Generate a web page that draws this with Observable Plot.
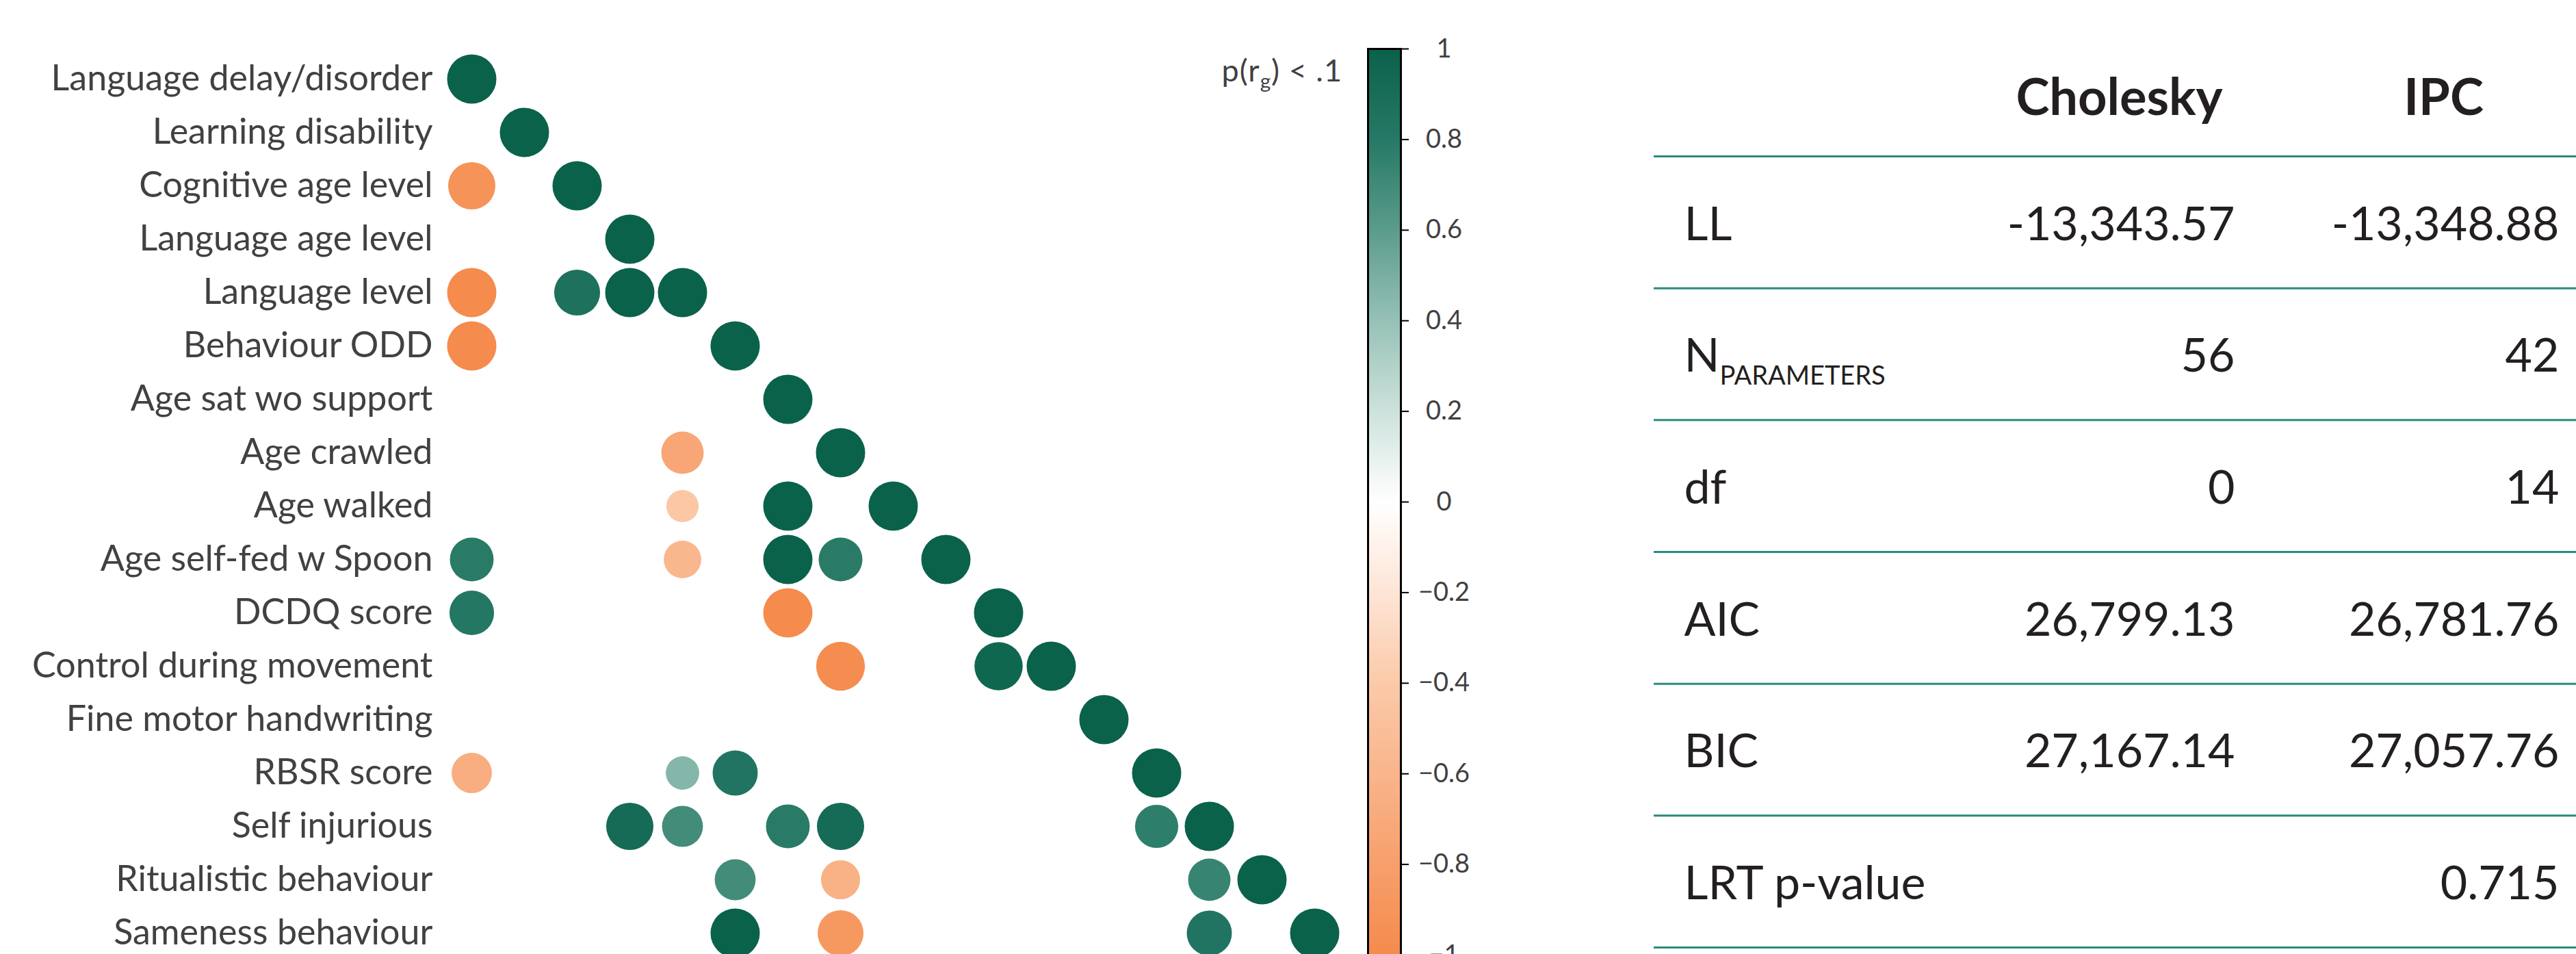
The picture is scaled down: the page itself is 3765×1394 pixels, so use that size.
<!DOCTYPE html>
<html>
<head>
<meta charset="utf-8">
<script src="https://cdn.jsdelivr.net/npm/d3@7"></script>
<script src="https://cdn.jsdelivr.net/npm/@observablehq/plot@0.6"></script>
<style>
  html, body { margin: 0; padding: 0; background: #fff; overflow: hidden; width: 3765px; height: 1394px; }
  #root { position: relative; width: 3765px; height: 1394px; overflow: hidden; }
  .panel { position: absolute; top: 0; }
  #matrix { left: 0; width: 1990px; }
  #colorbar { left: 1960px; width: 260px; }
  #table { left: 2400px; width: 1365px; }
  #legendTitle { position: absolute; left: 1600px; width: 362px; top: 76px; text-align: right;
    font-family: Lato, sans-serif; font-size: 45px; line-height: 52px; color: #414042; white-space: nowrap; letter-spacing: 1px; }
  #legendTitle sub { font-size: 0.66em; vertical-align: -0.35em; line-height: 0; }
</style>
</head>
<body>
<div id="root">
  <div id="matrix" class="panel"></div>
  <div id="legendTitle">p(r<sub>g</sub>) &lt; .1</div>
  <div id="colorbar" class="panel"></div>
  <div id="table" class="panel"></div>
</div>
<script>
// ---------- data ----------
const variables = [
  "Language delay/disorder",
  "Learning disability",
  "Cognitive age level",
  "Language age level",
  "Language level",
  "Behaviour ODD",
  "Age sat wo support",
  "Age crawled",
  "Age walked",
  "Age self-fed w Spoon",
  "DCDQ score",
  "Control during movement",
  "Fine motor handwriting",
  "RBSR score",
  "Self injurious",
  "Ritualistic behaviour",
  "Sameness behaviour"
];

// significant genetic correlations (p < .1): [row variable, column variable, r_g]
const significantRg = [
  ["Language delay/disorder", "Language delay/disorder", 1.0],
  ["Learning disability", "Learning disability", 1.0],
  ["Cognitive age level", "Language delay/disorder", -0.92],
  ["Cognitive age level", "Cognitive age level", 1.0],
  ["Language age level", "Language age level", 1.0],
  ["Language level", "Language delay/disorder", -1.0],
  ["Language level", "Cognitive age level", 0.87],
  ["Language level", "Language age level", 1.0],
  ["Language level", "Language level", 1.0],
  ["Behaviour ODD", "Language delay/disorder", -1.0],
  ["Behaviour ODD", "Behaviour ODD", 1.0],
  ["Age sat wo support", "Age sat wo support", 1.0],
  ["Age crawled", "Language level", -0.74],
  ["Age crawled", "Age crawled", 1.0],
  ["Age walked", "Language level", -0.43],
  ["Age walked", "Age sat wo support", 1.0],
  ["Age walked", "Age walked", 1.0],
  ["Age self-fed w Spoon", "Language delay/disorder", 0.79],
  ["Age self-fed w Spoon", "Language level", -0.58],
  ["Age self-fed w Spoon", "Age sat wo support", 1.0],
  ["Age self-fed w Spoon", "Age crawled", 0.79],
  ["Age self-fed w Spoon", "Age self-fed w Spoon", 1.0],
  ["DCDQ score", "Language delay/disorder", 0.82],
  ["DCDQ score", "Age sat wo support", -1.0],
  ["DCDQ score", "DCDQ score", 1.0],
  ["Control during movement", "Age crawled", -0.98],
  ["Control during movement", "DCDQ score", 0.96],
  ["Control during movement", "Control during movement", 1.0],
  ["Fine motor handwriting", "Fine motor handwriting", 1.0],
  ["RBSR score", "Language delay/disorder", -0.67],
  ["RBSR score", "Language level", 0.46],
  ["RBSR score", "Behaviour ODD", 0.84],
  ["RBSR score", "RBSR score", 1.0],
  ["Self injurious", "Language age level", 0.92],
  ["Self injurious", "Language level", 0.69],
  ["Self injurious", "Age sat wo support", 0.79],
  ["Self injurious", "Age crawled", 0.92],
  ["Self injurious", "RBSR score", 0.77],
  ["Self injurious", "Self injurious", 1.0],
  ["Ritualistic behaviour", "Behaviour ODD", 0.69],
  ["Ritualistic behaviour", "Age crawled", -0.63],
  ["Ritualistic behaviour", "Self injurious", 0.74],
  ["Ritualistic behaviour", "Ritualistic behaviour", 1.0],
  ["Sameness behaviour", "Behaviour ODD", 1.0],
  ["Sameness behaviour", "Age crawled", -0.87],
  ["Sameness behaviour", "Self injurious", 0.84],
  ["Sameness behaviour", "Sameness behaviour", 1.0]
];

const colorStops = [-1, -0.8, -0.6, -0.4, -0.2, 0, 0.2, 0.4, 0.6, 0.8, 1];
const colorStopHex = ["#f58b4d", "#f7a06c", "#f9b58b", "#fbcaa9", "#fde5d6", "#ffffff",
                      "#cde2dc", "#96c1b6", "#5b9c8b", "#267966", "#0b624b"];
const colorTicks = [1, 0.8, 0.6, 0.4, 0.2, 0, -0.2, -0.4, -0.6, -0.8, -1];

const tableColumns = ["Cholesky", "IPC"];
const tableRows = ["LL", "N", "df", "AIC", "BIC", "LRT p-value"];
const tableRowSubscripts = ["", "PARAMETERS", "", "", "", ""];
const choleskyValues = ["-13,343.57", "56", "0", "26,799.13", "27,167.14", ""];
const ipcValues = ["-13,348.88", "42", "14", "26,781.76", "27,057.76", "0.715"];

// ---------- shared ----------
const colorScale = {type: "linear", domain: colorStops, range: colorStopHex, interpolate: "rgb"};
const labelGray = "#414042";
const tableInk = "#231f20";

// ---------- correlation matrix ----------
const cells = significantRg.map(([row, col, value]) => ({row, col, value}));

const matrix = Plot.plot({
  width: 1990,
  height: 1440,
  marginLeft: 684, marginRight: 0, marginTop: 0, marginBottom: 0,
  style: {fontFamily: "Lato, sans-serif", background: "transparent", maxWidth: "none"},
  x: {type: "point", domain: variables, range: [684, 1926], padding: 0, axis: null},
  y: {type: "point", domain: variables, range: [113, 1364], padding: 0},
  r: {type: "sqrt", domain: [0, 1], range: [0, 36]},
  color: colorScale,
  marks: [
    Plot.axisY({anchor: "left", label: null, tickSize: 0, tickPadding: 52, fontSize: 52, fill: labelGray}),
    Plot.dot(cells, {x: "col", y: "row", r: d => Math.abs(d.value), fill: "value"})
  ]
});
document.getElementById("matrix").appendChild(matrix);

// ---------- colour bar ----------
const barStep = 0.004;
const barSamples = d3.range(-1, 1, barStep);
const colorbar = Plot.plot({
  width: 260,
  height: 1440,
  marginLeft: 39, marginRight: 173, marginTop: 71, marginBottom: 45,
  style: {fontFamily: "Lato, sans-serif", background: "transparent", maxWidth: "none", overflow: "visible"},
  y: {domain: [-1, 1]},
  color: colorScale,
  marks: [
    Plot.rect(barSamples, {y1: d => d, y2: d => Math.min(1, d + barStep * 1.6), fill: d => d + barStep / 2}),
    Plot.frame({stroke: "#000", strokeWidth: 3}),
    Plot.axisY({anchor: "right", label: null, ticks: colorTicks, tickSize: 11, tickPadding: 52, textAnchor: "middle",
      fontSize: 38, fill: labelGray, stroke: "#000", strokeWidth: 2,
      tickFormat: d => d3.format("~g")(d)})
  ]
});
document.getElementById("colorbar").appendChild(colorbar);

// ---------- fit table ----------
const tableCells = tableRows.flatMap((r, i) => [
  {row: i + 1, col: "Cholesky", text: choleskyValues[i]},
  {row: i + 1, col: "IPC", text: ipcValues[i]}
]);
const ruleIndex = d3.range(0.5, tableRows.length + 1, 1);

const table = Plot.plot({
  width: 1365,
  height: 1394,
  marginLeft: 17, marginRight: 0, marginTop: 0, marginBottom: 0,
  style: {fontFamily: "Lato, sans-serif", background: "transparent", maxWidth: "none"},
  x: {type: "point", domain: tableColumns, range: [866, 1340], padding: 0, axis: null},
  y: {type: "linear", domain: [0.5, 6.5], range: [228, 1384], axis: null},
  marks: [
    Plot.ruleY(ruleIndex, {y: d => d, stroke: "#2a8c7d", strokeWidth: 3}),
    Plot.text(tableColumns, {x: d => d, y: () => 0, text: d => d, textAnchor: "middle", dx: -169, dy: 12,
      fontSize: 74, fontWeight: 700, fill: tableInk}),
    Plot.text(tableRows, {frameAnchor: "left", y: (d, i) => i + 1, text: d => d, textAnchor: "start",
      dx: 44, dy: 4, fontSize: 68, fill: tableInk}),
    Plot.text(tableRowSubscripts, {frameAnchor: "left", y: (d, i) => i + 1, text: d => d, textAnchor: "start",
      dx: 96, dy: 32, fontSize: 38, fill: tableInk}),
    Plot.text(tableCells, {x: "col", y: "row", text: "text", textAnchor: "end", dy: 4, fontSize: 68, fill: tableInk})
  ]
});
document.getElementById("table").appendChild(table);
</script>
</body>
</html>
